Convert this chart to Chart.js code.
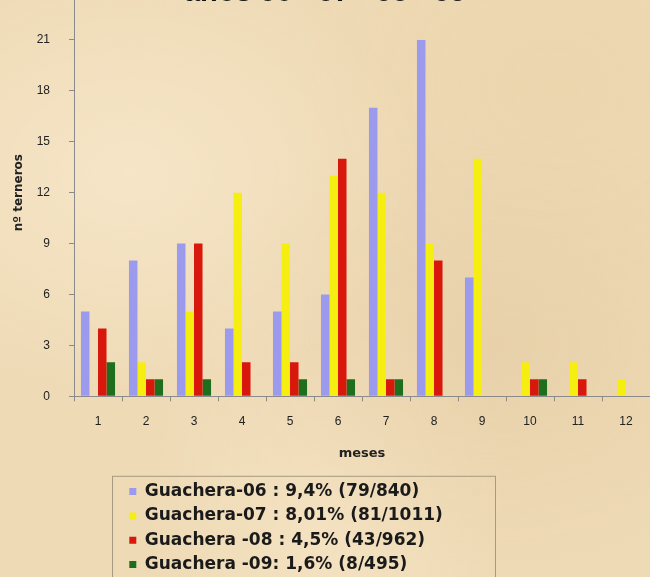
<!DOCTYPE html>
<html><head><meta charset="utf-8">
<script src="https://cdn.jsdelivr.net/npm/chart.js@4.4.0/dist/chart.umd.min.js"></script>
<style>
html,body{margin:0;padding:0;width:650px;height:577px;overflow:hidden;}
body{background-color:#EEDAB5;
background-image:
 radial-gradient(ellipse at 20% 30%, rgba(255,243,222,0.45), rgba(255,243,222,0) 40%),
 radial-gradient(ellipse at 75% 60%, rgba(220,192,148,0.35), rgba(220,192,148,0) 45%),
 radial-gradient(ellipse at 50% 90%, rgba(255,240,215,0.35), rgba(255,240,215,0) 40%),
 radial-gradient(ellipse at 85% 15%, rgba(230,203,158,0.3), rgba(230,203,158,0) 35%);}
#wrap{position:absolute;left:0;top:-40px;width:650px;height:623px;}
</style></head>
<body><div id="wrap"><canvas id="c"></canvas></div>
<script>
const months = ['1','2','3','4','5','6','7','8','9','10','11','12'];
const seriesNames = ['Guachera-06 : 9,4% (79/840)','Guachera-07 : 8,01% (81/1011)','Guachera -08 : 4,5% (43/962)','Guachera -09: 1,6% (8/495)'];
const g06 = [5,8,9,4,5,6,17,21,7,0,0,0];
const g07 = [0,2,5,12,9,13,12,9,14,2,2,1];
const g08 = [4,1,9,2,2,14,1,8,0,1,1,0];
const g09 = [2,1,1,0,1,1,1,0,0,1,0,0];
const yTicks = [0,3,6,9,12,15,18,21,24];
const titleText = 'años 06 - 07 - 08 - 09';

const colors = ['#9B9AEC','#F6EE10','#D8180C','#1E6E1E'];
const seriesData = [g06,g07,g08,g09];

const legendFrame = {
  id:'legendFrame',
  beforeDraw(chart){ chart.legend.left = 122; chart.legend.right = 650; },
  afterDraw(chart){
    const ctx = chart.ctx, lg = chart.legend;
    ctx.save();
    ctx.strokeStyle = '#A89A80';
    ctx.lineWidth = 1;
    ctx.strokeRect(112.5, lg.top + 0.5, 383, 300);
    ctx.restore();
  }
};

new Chart(document.getElementById('c'), {
  type:'bar',
  data:{
    labels: months,
    datasets: seriesData.map((d,i)=>({
      label: seriesNames[i], data: d, backgroundColor: colors[i], borderWidth:0,
      categoryPercentage:0.71, barPercentage:1.0
    }))
  },
  options:{
    responsive:true, maintainAspectRatio:false, animation:false,
    layout:{padding:0},
    plugins:{
      title:{display:true, text:titleText, color:'#111',
        font:{family:'Liberation Sans', size:29, weight:'bold'},
        padding:{top:16, bottom:-21.8}},
      legend:{display:true, position:'bottom', align:'start', fullSize:false,
        labels:{boxWidth:7, boxHeight:7, padding:7.3, color:'#1a1a1a',
          font:{family:'DejaVu Sans', size:17, weight:'bold'}}},
      tooltip:{enabled:false}
    },
    scales:{
      x:{
        afterFit(s){ s.height = 79.5; },
        grid:{display:true, drawOnChartArea:false, tickLength:5, color:'#8a8a8a', offset:true},
        border:{display:true, color:'#8a8a8a'},
        ticks:{color:'#222', padding:13, font:{family:'Liberation Sans', size:12}},
        title:{display:true, text:'meses', color:'#222',
          font:{family:'DejaVu Sans', size:13, weight:'bold'}, padding:{top:10, bottom:14.5}}
      },
      y:{
        min:0, max:24,
        afterFit(s){ s.width = 74; },
        afterBuildTicks(scale){ scale.ticks = yTicks.map(v=>({value:v})); },
        grid:{display:true, drawOnChartArea:false, tickLength:5, color:'#8a8a8a'},
        border:{display:true, color:'#8a8a8a'},
        ticks:{color:'#222', padding:19, font:{family:'Liberation Sans', size:12}},
        title:{display:true, text:'nº terneros', color:'#222',
          font:{family:'DejaVu Sans', size:12, weight:'bold'}, padding:{top:12, bottom:10}}
      }
    }
  },
  plugins:[legendFrame]
});
</script>
</body></html>
